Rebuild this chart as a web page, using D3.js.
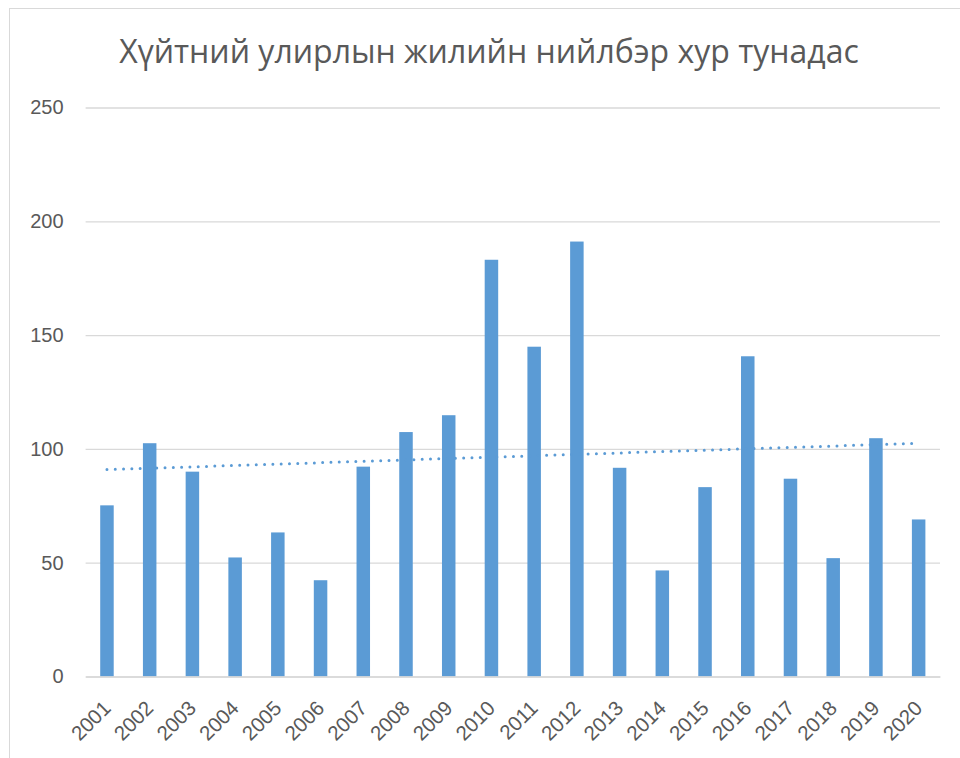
<!DOCTYPE html>
<html>
<head>
<meta charset="utf-8">
<script src="https://cdn.jsdelivr.net/npm/d3@7"></script>
<style>
	body { margin: 0; background: #fff; }
	svg { display: block; font-family: "Open Sans", Lato, sans-serif; }
</style>
</head>
<body>
<svg id="chart" width="960" height="758"></svg>
<script>
const TITLE = 'Хүйтний улирлын жилийн нийлбэр хур тунадас';

const years = ['2001', '2002', '2003', '2004', '2005', '2006', '2007', '2008', '2009', '2010',
	'2011', '2012', '2013', '2014', '2015', '2016', '2017', '2018', '2019', '2020'];
const precip = [75.2, 102.5, 90.0, 52.3, 63.3, 42.3, 92.2, 107.4, 114.8, 183.1,
	144.9, 191.1, 91.7, 46.6, 83.2, 140.7, 86.9, 52.0, 104.7, 69.0];
const yTicks = [0, 50, 100, 150, 200, 250];

const BAR_COLOR = '#5b9bd5',
	GRID_COLOR = '#d9d9d9',
	TEXT_COLOR = '#595959';

const width = 960, height = 758;
const margin = { top: 107.5, right: 20, bottom: 81.5, left: 85.6 };

const svg = d3.select('#chart');

// chart frame
svg.append('rect')
	.attr('x', 9.5).attr('y', 8.5)
	.attr('width', 960).attr('height', 760)
	.attr('fill', 'none')
	.attr('stroke', GRID_COLOR);

const x = d3.scaleBand()
	.domain(years)
	.range([margin.left, width - margin.right])
	.paddingInner(0.684)
	.paddingOuter(0.342);

const y = d3.scaleLinear()
	.domain([0, 250])
	.range([height - margin.bottom, margin.top]);

// gridlines + y labels
const yAxis = svg.append('g')
	.attr('transform', `translate(${margin.left},0)`)
	.call(d3.axisLeft(y).tickValues(yTicks).tickSize(-(width - margin.right - margin.left)).tickPadding(22));
yAxis.select('.domain').remove();
yAxis.selectAll('.tick line').attr('stroke', GRID_COLOR).attr('stroke-width', 1.3);
yAxis.selectAll('.tick text')
	.attr('fill', TEXT_COLOR)
	.attr('font-size', 20);

// bars
svg.append('g')
	.selectAll('rect')
	.data(precip)
	.join('rect')
	.attr('x', (d, i) => x(years[i]))
	.attr('y', d => y(d))
	.attr('width', x.bandwidth())
	.attr('height', d => y(0) - y(d))
	.attr('fill', BAR_COLOR);

// x axis
const xAxis = svg.append('g')
	.attr('transform', `translate(0,${y(0)})`)
	.call(d3.axisBottom(x).tickSize(0).tickPadding(0));
xAxis.select('.domain').attr('stroke', GRID_COLOR).attr('stroke-width', 1.3);
xAxis.selectAll('.tick text')
	.attr('fill', TEXT_COLOR)
	.attr('font-size', 20.5)
	.attr('text-anchor', 'end')
	.attr('dy', 0)
	.attr('transform', 'translate(5,33) rotate(-45)');

// linear trendline (least squares over the series)
const idx = precip.map((d, i) => i);
const mx = d3.mean(idx), my = d3.mean(precip);
const slope = d3.sum(idx, i => (i - mx) * (precip[i] - my)) / d3.sum(idx, i => (i - mx) ** 2);
const trend = i => my + slope * (i - mx);

svg.append('path')
	.datum([0, years.length - 1])
	.attr('d', d3.line()
		.x(i => x(years[i]) + x.bandwidth() / 2)
		.y(i => y(trend(i))))
	.attr('fill', 'none')
	.attr('stroke', BAR_COLOR)
	.attr('stroke-width', 3)
	.attr('stroke-linecap', 'round')
	.attr('stroke-dasharray', '0 8.3');

// title
svg.append('text')
	.attr('x', 489)
	.attr('y', 63)
	.attr('text-anchor', 'middle')
	.attr('fill', TEXT_COLOR)
	.attr('font-size', 32)
	.text(TITLE);
</script>
</body>
</html>
